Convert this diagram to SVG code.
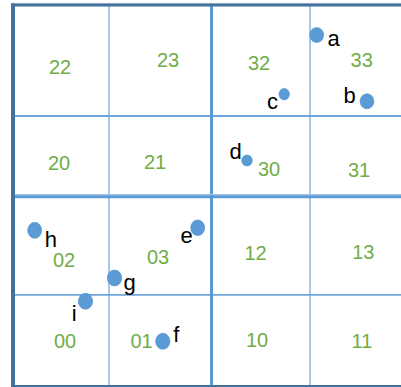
<svg xmlns="http://www.w3.org/2000/svg" width="401" height="387" viewBox="0 0 401 387">
<style>
.num{font-family:"Liberation Sans",Arial,sans-serif;font-size:20px;fill:#70AD47;text-anchor:middle}
.lbl{font-family:"Liberation Sans",Arial,sans-serif;font-size:22px;fill:#000;text-anchor:middle}
.dot{fill:#5B9BD5;stroke:#4F8FCB;stroke-width:0.6}
.thinv{stroke:#A5C8EA;stroke-width:2}
.thinh{stroke:#6FA5DA;stroke-width:1.8}
.thick{stroke:#5B9BD5;stroke-width:3}
.outer{stroke:#41719C}
</style>
<rect width="401" height="387" fill="#fff"/>
<g id="grid">
  <line class="thinv" x1="109" y1="5" x2="109" y2="386"/>
  <line class="thinv" x1="310" y1="5" x2="310" y2="386"/>
  <line class="thinh" x1="13" y1="116" x2="401" y2="116"/>
  <line class="thinh" x1="13" y1="294.8" x2="401" y2="294.8"/>
  <line class="thick" x1="211.5" y1="5" x2="211.5" y2="386"/>
  <line stroke="#9DC3E6" stroke-width="1.2" x1="13" y1="194.6" x2="401" y2="194.6"/>
  <line class="thick" x1="13" y1="196.7" x2="401" y2="196.7"/>
  <line stroke="#D6DCE4" stroke-width="1" x1="11" y1="3.3" x2="401" y2="3.3"/>
  <line class="outer" stroke-width="2.8" x1="11" y1="5" x2="401" y2="5"/>
  <line class="outer" stroke-width="4" x1="13" y1="3.6" x2="13" y2="387"/>
  <line class="outer" stroke-width="2.5" x1="11" y1="386.3" x2="401" y2="386.3"/>
</g>
<g id="cells">
  <text class="num" x="60" y="74">22</text>
  <text class="num" x="168" y="66.7">23</text>
  <text class="num" x="59" y="170">20</text>
  <text class="num" x="155" y="169.3">21</text>
  <text class="num" x="259" y="70">32</text>
  <text class="num" x="361.7" y="66.7">33</text>
  <text class="num" x="269" y="175.7">30</text>
  <text class="num" x="359" y="176.7">31</text>
  <text class="num" x="64" y="267.3">02</text>
  <text class="num" x="158" y="264">03</text>
  <text class="num" x="65" y="347.7">00</text>
  <text class="num" x="141.5" y="347.7">01</text>
  <text class="num" x="255.5" y="260">12</text>
  <text class="num" x="363.3" y="259">13</text>
  <text class="num" x="257" y="347.3">10</text>
  <text class="num" x="362" y="348.3">11</text>
</g>
<g id="point-a"><ellipse class="dot" cx="316.7" cy="35" rx="7" ry="7.5"/><text class="lbl" x="333.5" y="45.5">a</text></g>
<g id="point-b"><ellipse class="dot" cx="367" cy="101.3" rx="7" ry="7.5"/><text class="lbl" x="349.7" y="102.7">b</text></g>
<g id="point-c"><ellipse class="dot" cx="284.2" cy="94.2" rx="5.2" ry="5.8"/><text class="lbl" x="272.5" y="109.3">c</text></g>
<g id="point-d"><ellipse class="dot" cx="247" cy="160.5" rx="5.3" ry="5.5"/><text class="lbl" x="235.5" y="159.3">d</text></g>
<g id="point-e"><ellipse class="dot" cx="197.7" cy="227.8" rx="7" ry="7.8"/><text class="lbl" x="186.7" y="242.7">e</text></g>
<g id="point-f"><ellipse class="dot" cx="162.8" cy="341.3" rx="7.2" ry="8"/><text class="lbl" x="176.4" y="341.7">f</text></g>
<g id="point-g"><ellipse class="dot" cx="114.5" cy="278" rx="7.2" ry="8"/><text class="lbl" x="129.5" y="289.5">g</text></g>
<g id="point-h"><ellipse class="dot" cx="34.7" cy="230.3" rx="7" ry="8"/><text class="lbl" x="50.9" y="246.7">h</text></g>
<g id="point-i"><ellipse class="dot" cx="85.5" cy="301.3" rx="7.2" ry="8"/><text class="lbl" x="74.2" y="321">i</text></g>
</svg>
